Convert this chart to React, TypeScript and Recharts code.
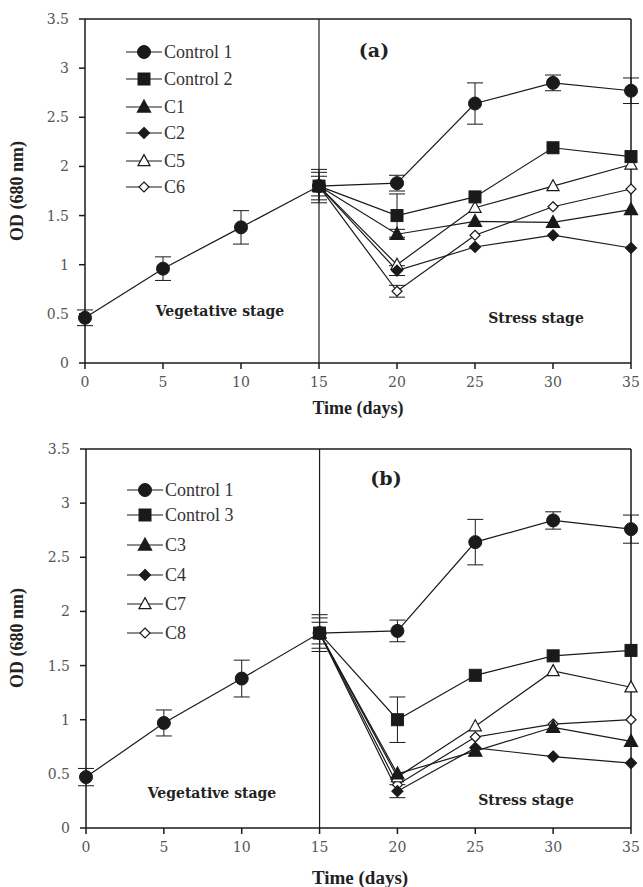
import React from "react"
import { LineChart, Line, XAxis, YAxis, ReferenceLine, ErrorBar } from "recharts"

const days = [0, 5, 10, 15, 20, 25, 30, 35]
const yTicks = [0, 0.5, 1, 1.5, 2, 2.5, 3, 3.5]

// panel (a)
const control1A = [0.46, 0.96, 1.38, 1.8, 1.83, 2.64, 2.85, 2.77]
const control1AErr = [0.08, 0.12, 0.17, 0.17, 0.08, 0.21, 0.08, 0.13]
const control2A = [null, null, null, 1.8, 1.5, 1.69, 2.19, 2.1]
const control2AErr = [null, null, null, 0.14, 0.22, null, null, null]
const c1A = [null, null, null, 1.8, 1.31, 1.44, 1.43, 1.56]
const c1AErr = [null, null, null, 0.1, 0.05, null, null, null]
const c2A = [null, null, null, 1.8, 0.94, 1.18, 1.3, 1.17]
const c2AErr = [null, null, null, null, 0.05, null, null, null]
const c5A = [null, null, null, 1.8, 1.0, 1.58, 1.8, 2.02]
const c6A = [null, null, null, 1.8, 0.73, 1.3, 1.59, 1.77]
const c6AErr = [null, null, null, null, 0.06, null, null, null]

// panel (b)
const control1B = [0.47, 0.97, 1.38, 1.8, 1.82, 2.64, 2.84, 2.76]
const control1BErr = [0.08, 0.12, 0.17, 0.17, 0.1, 0.21, 0.08, 0.13]
const control3B = [null, null, null, 1.8, 1.0, 1.41, 1.59, 1.64]
const control3BErr = [null, null, null, 0.14, 0.21, null, null, null]
const c3B = [null, null, null, 1.8, 0.5, 0.71, 0.93, 0.8]
const c4B = [null, null, null, 1.8, 0.34, 0.74, 0.66, 0.6]
const c4BErr = [null, null, null, 0.1, 0.06, null, null, null]
const c7B = [null, null, null, 1.8, 0.47, 0.94, 1.45, 1.3]
const c8B = [null, null, null, 1.8, 0.4, 0.84, 0.96, 1.0]

type Shape = "circle" | "square" | "triangle" | "diamond"
type Series = {
  key: string
  name: string
  shape: Shape
  filled: boolean
  size: number
  values: (number | null)[]
  err?: (number | null)[]
}

const seriesA: Series[] = [
  { key: "c6", name: "C6", shape: "diamond", filled: false, size: 10, values: c6A, err: c6AErr },
  { key: "c5", name: "C5", shape: "triangle", filled: false, size: 11, values: c5A },
  { key: "c2", name: "C2", shape: "diamond", filled: true, size: 11, values: c2A, err: c2AErr },
  { key: "c1", name: "C1", shape: "triangle", filled: true, size: 12, values: c1A, err: c1AErr },
  { key: "control2", name: "Control 2", shape: "square", filled: true, size: 12, values: control2A, err: control2AErr },
  { key: "control1", name: "Control 1", shape: "circle", filled: true, size: 13, values: control1A, err: control1AErr },
]

const seriesB: Series[] = [
  { key: "c8", name: "C8", shape: "diamond", filled: false, size: 10, values: c8B },
  { key: "c7", name: "C7", shape: "triangle", filled: false, size: 11, values: c7B },
  { key: "c4", name: "C4", shape: "diamond", filled: true, size: 11, values: c4B, err: c4BErr },
  { key: "c3", name: "C3", shape: "triangle", filled: true, size: 12, values: c3B },
  { key: "control3", name: "Control 3", shape: "square", filled: true, size: 12, values: control3B, err: control3BErr },
  { key: "control1", name: "Control 1", shape: "circle", filled: true, size: 13, values: control1B, err: control1BErr },
]

const INK = "#1a1a1a"
const SERIF = "'Liberation Serif', 'DejaVu Serif', serif"
const HEAVY = "'DejaVu Serif', serif"

function Marker({ shape, filled, size, cx, cy }: { shape: Shape; filled: boolean; size: number; cx: number; cy: number }) {
  const fill = filled ? INK : "#fff"
  const s = size
  if (shape === "circle") return <circle cx={cx} cy={cy} r={s / 2} fill={fill} stroke={INK} strokeWidth={1} />
  if (shape === "square") return <rect x={cx - s / 2} y={cy - s / 2} width={s} height={s} fill={fill} stroke={INK} strokeWidth={1} />
  if (shape === "triangle")
    return (
      <polygon
        points={`${cx},${cy - s * 0.58} ${cx + s * 0.55},${cy + s * 0.42} ${cx - s * 0.55},${cy + s * 0.42}`}
        fill={fill}
        stroke={INK}
        strokeWidth={1.2}
      />
    )
  return (
    <polygon
      points={`${cx},${cy - s / 2} ${cx + s / 2},${cy} ${cx},${cy + s / 2} ${cx - s / 2},${cy}`}
      fill={fill}
      stroke={INK}
      strokeWidth={1.2}
    />
  )
}

function makeDot(s: Series) {
  return (props: any) => {
    const { cx, cy, index } = props
    if (cx == null || cy == null || props.value == null) return <g key={`${s.key}-${index}`} />
    return (
      <g key={`${s.key}-${index}`}>
        <Marker shape={s.shape} filled={s.filled} size={s.size} cx={cx} cy={cy} />
      </g>
    )
  }
}

function buildRows(series: Series[]) {
  return days.map((d, i) => {
    const row: Record<string, number | null> = { day: d }
    series.forEach(s => {
      row[s.key] = s.values[i]
      if (s.err) row[`${s.key}Err`] = s.err[i]
    })
    return row
  })
}

function Legend({ series, left, rows }: { series: Series[]; left: number; rows: number[] }) {
  const ordered = [...series].reverse()
  return (
    <svg style={{ position: "absolute", left: 0, top: 0 }} width={643} height={887}>
      {ordered.map((s, i) => (
        <g key={s.key}>
          <line x1={left} x2={left + 36} y1={rows[i]} y2={rows[i]} stroke={INK} strokeWidth={1.2} />
          <Marker shape={s.shape} filled={s.filled} size={s.size} cx={left + 18} cy={rows[i]} />
          <text x={left + 38} y={rows[i] + 6} fontFamily={SERIF} fontSize={18} fill="#333">
            {s.name}
          </text>
        </g>
      ))}
    </svg>
  )
}

function Panel({ series, top, height, marginLeft, marginBottom }: { series: Series[]; top: number; height: number; marginLeft: number; marginBottom: number }) {
  const rows = buildRows(series)
  const tick = { fontFamily: HEAVY, fontSize: 14, fill: "#555" }
  return (
    <div style={{ position: "absolute", left: 0, top }}>
      <LineChart width={643} height={height} data={rows} margin={{ top: 19, right: 12, left: marginLeft, bottom: marginBottom }}>
        <XAxis
          dataKey="day"
          type="number"
          domain={[0, 35]}
          ticks={days}
          height={30}
          stroke={INK}
          strokeWidth={1.5}
          tickSize={6}
          tickMargin={8}
          tick={tick}
        />
        <YAxis
          type="number"
          domain={[0, 3.5]}
          ticks={yTicks}
          width={45}
          stroke={INK}
          strokeWidth={1.5}
          tickSize={6}
          tickMargin={10}
          tick={tick}
        />
        <ReferenceLine x={15} stroke={INK} strokeWidth={1.2} />
        <ReferenceLine x={35} stroke={INK} strokeWidth={1.5} />
        <ReferenceLine y={3.5} stroke={INK} strokeWidth={1.5} />
        {series.map(s => (
          <Line
            key={s.key}
            dataKey={s.key}
            name={s.name}
            stroke={INK}
            strokeWidth={1.2}
            dot={makeDot(s)}
            activeDot={false}
            isAnimationActive={false}
          >
            {s.err && <ErrorBar dataKey={`${s.key}Err`} width={8} stroke={INK} strokeWidth={1} direction="y" />}
          </Line>
        ))}
      </LineChart>
    </div>
  )
}

const bold = (size: number, family = SERIF): React.CSSProperties => ({
  position: "absolute",
  fontFamily: family,
  fontWeight: "bold",
  fontSize: size,
  color: "#222",
  whiteSpace: "nowrap",
  transform: "translate(-50%, -50%)",
  lineHeight: 1,
})

export default function App() {
  return (
    <div style={{ position: "absolute", left: 0, top: 0, width: 643, height: 887, background: "#fff" }}>
      <Panel series={seriesA} top={0} height={420} marginLeft={40} marginBottom={27} />
      <Panel series={seriesB} top={430} height={457} marginLeft={41} marginBottom={29} />

      <Legend series={seriesA} left={126} rows={[52, 79, 107, 133, 161, 187]} />
      <Legend series={seriesB} left={127} rows={[490, 515, 545, 575, 604, 633]} />

      <div style={{ ...bold(18), left: 17, top: 191, transform: "translate(-50%, -50%) rotate(-90deg)" }}>OD (680 nm)</div>
      <div style={{ ...bold(18), left: 17, top: 638, transform: "translate(-50%, -50%) rotate(-90deg)" }}>OD (680 nm)</div>
      <div style={{ ...bold(18), left: 358, top: 408 }}>Time (days)</div>
      <div style={{ ...bold(19), left: 360, top: 877 }}>Time (days)</div>

      <div style={{ ...bold(19, HEAVY), left: 374, top: 50 }}>(a)</div>
      <div style={{ ...bold(19, HEAVY), left: 386, top: 478 }}>(b)</div>

      <div style={{ ...bold(14, HEAVY), left: 220, top: 311 }}>Vegetative stage</div>
      <div style={{ ...bold(14, HEAVY), left: 536, top: 318 }}>Stress stage</div>
      <div style={{ ...bold(14, HEAVY), left: 212, top: 793 }}>Vegetative stage</div>
      <div style={{ ...bold(14, HEAVY), left: 526, top: 800 }}>Stress stage</div>
    </div>
  )
}
